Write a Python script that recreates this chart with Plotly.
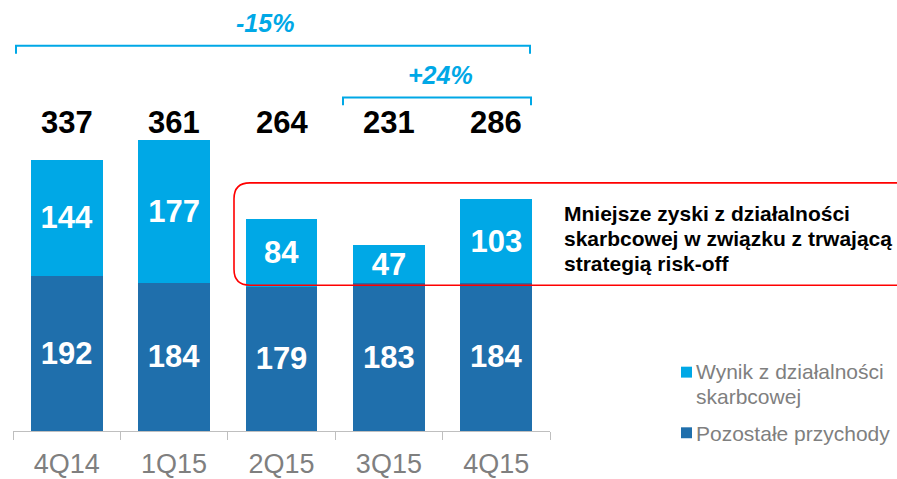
import plotly.graph_objects as go

# ---- data ----
categories = ["4Q14", "1Q15", "2Q15", "3Q15", "4Q15"]
other_income = [192, 184, 179, 183, 184]          # Pozostałe przychody
treasury_income = [144, 177, 84, 47, 103]         # Wynik z działalności skarbcowej
totals = [337, 361, 264, 231, 286]
name_other = "Pozostałe przychody"
name_treasury_lines = ["Wynik z działalności", "skarbcowej"]
change_long = "-15%"
change_short = "+24%"
note_lines = ["Mniejsze zyski z działalności",
              "skarbcowej w związku z trwającą",
              "strategią risk-off"]

W, H = 897, 479
FONT = "Arial, 'Liberation Sans', sans-serif"
C_LIGHT = "#00A8E6"
C_DARK = "#1F6FAC"
C_GRAY = "#7F7F7F"


def px(x):
    return x / W


def py(y):
    return 1 - y / H


fig = go.Figure()
fig.add_trace(go.Bar(
    x=categories, y=other_income, name=name_other,
    marker=dict(color=C_DARK, line=dict(width=0)),
    width=0.67, text=other_income, textposition="inside",
    insidetextanchor="middle", constraintext="none", textangle=0,
    textfont=dict(family=FONT, size=31, color="white", weight="bold"),
    showlegend=False,
))
fig.add_trace(go.Bar(
    x=categories, y=treasury_income, name="<br>".join(name_treasury_lines),
    marker=dict(color=C_LIGHT, line=dict(width=0)),
    width=0.67, text=treasury_income, textposition="inside",
    insidetextanchor="middle", constraintext="none", textangle=0,
    textfont=dict(family=FONT, size=31, color="white", weight="bold"),
    showlegend=False,
))

# baseline at y=434px, scale ~0.813 px/unit
y_bottom_px, y_top_px = 434, 29
y_max = (y_bottom_px - y_top_px) / 0.813

fig.update_layout(
    width=W, height=H,
    margin=dict(l=0, r=0, t=0, b=0),
    paper_bgcolor="white", plot_bgcolor="white",
    barmode="stack",
    xaxis=dict(
        domain=[px(13), px(550)],
        range=[-0.5, 4.5],
        showline=True, linecolor="#BFBFBF", linewidth=1.3,
        ticks="outside", tickson="boundaries", ticklen=8,
        tickcolor="#BFBFBF", tickwidth=1.3,
        ticklabelstandoff=8,
        tickfont=dict(family=FONT, size=27, color=C_GRAY),
        showgrid=False, zeroline=False,
    ),
    yaxis=dict(
        domain=[py(y_bottom_px), py(y_top_px)],
        range=[0, y_max], visible=False,
    ),
    showlegend=False,
)

annotations = []
# totals above bars
for c, t in zip(categories, totals):
    annotations.append(dict(
        x=c, xref="x", y=py(123), yref="paper", text=f"<b>{t}</b>",
        showarrow=False, font=dict(family=FONT, size=31, color="black"),
        xanchor="center", yanchor="middle",
    ))

# percentage labels
annotations.append(dict(
    x=px(265), y=py(23), xref="paper", yref="paper",
    text=f"<b><i>{change_long}</i></b>", showarrow=False,
    font=dict(family=FONT, size=25, color=C_LIGHT),
    xanchor="center", yanchor="middle",
))
annotations.append(dict(
    x=px(440), y=py(75), xref="paper", yref="paper",
    text=f"<b><i>{change_short}</i></b>", showarrow=False,
    font=dict(family=FONT, size=25, color=C_LIGHT),
    xanchor="center", yanchor="middle",
))

# note text, one annotation per line
for i, line in enumerate(note_lines):
    annotations.append(dict(
        x=px(562), y=py(215 + 25 * i), xref="paper", yref="paper",
        text=f"<b>{line}</b>", showarrow=False, align="left",
        font=dict(family=FONT, size=21, color="black"),
        xanchor="left", yanchor="middle",
    ))

# manual legend
for i, line in enumerate(name_treasury_lines):
    annotations.append(dict(
        x=px(694), y=py(374 + 25 * i), xref="paper", yref="paper",
        text=line, showarrow=False, align="left",
        font=dict(family=FONT, size=21, color=C_GRAY),
        xanchor="left", yanchor="middle",
    ))
annotations.append(dict(
    x=px(694), y=py(436), xref="paper", yref="paper",
    text=name_other, showarrow=False, align="left",
    font=dict(family=FONT, size=21, color=C_GRAY),
    xanchor="left", yanchor="middle",
))

shapes = []
# legend squares
shapes.append(dict(type="rect", xref="paper", yref="paper",
                   x0=px(681), x1=px(692), y0=py(369), y1=py(380),
                   fillcolor=C_LIGHT, line=dict(width=0)))
shapes.append(dict(type="rect", xref="paper", yref="paper",
                   x0=px(681), x1=px(692), y0=py(430), y1=py(441),
                   fillcolor=C_DARK, line=dict(width=0)))


def bracket(x0, x1, y, tick):
    return (f"M {px(x0)},{py(y + tick)} L {px(x0)},{py(y)} "
            f"L {px(x1)},{py(y)} L {px(x1)},{py(y + tick)}")


shapes.append(dict(type="path", xref="paper", yref="paper",
                   path=bracket(16, 530, 46, 8),
                   line=dict(color=C_LIGHT, width=2)))
shapes.append(dict(type="path", xref="paper", yref="paper",
                   path=bracket(343, 531, 98, 8),
                   line=dict(color=C_LIGHT, width=2)))

# red rounded box (extends beyond right edge)
L, T, B, R, r = 234, 184, 287, 930, 16
box_path = (f"M {px(R)},{py(T)} L {px(L + r)},{py(T)} "
            f"Q {px(L)},{py(T)} {px(L)},{py(T + r)} "
            f"L {px(L)},{py(B - r)} "
            f"Q {px(L)},{py(B)} {px(L + r)},{py(B)} "
            f"L {px(R)},{py(B)}")
shapes.append(dict(type="path", xref="paper", yref="paper", path=box_path,
                   line=dict(color="#FF0000", width=1.6), layer="above"))

fig.update_layout(annotations=annotations, shapes=shapes)
fig.write_html(
    "out.html",
    config={"displayModeBar": False},
    post_script="document.body.style.margin='0';document.body.style.overflow='hidden';",
)
